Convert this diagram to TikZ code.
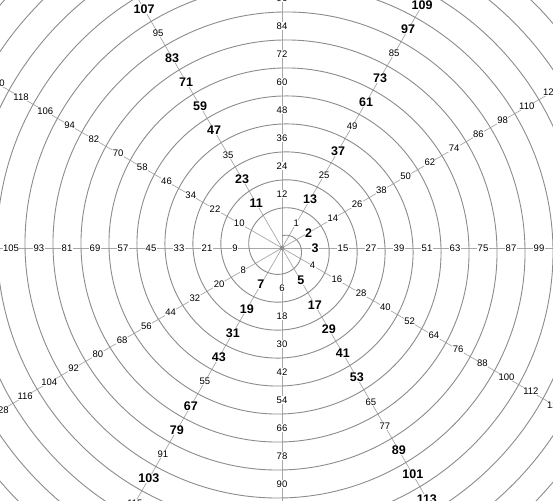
\documentclass[tikz,border=0pt]{standalone}
\usepackage{fontspec}
\setmainfont{Liberation Sans}
\definecolor{raygray}{HTML}{A8A8A8}
\definecolor{spiralgray}{HTML}{8C8C8C}
\begin{document}
\begin{tikzpicture}[x=1pt,y=1pt,
  ray/.style={draw=raygray, line width=0.7pt},
  spiral/.style={draw=spiralgray, line width=0.9pt},
  plainlbl/.style={fill=white, inner sep=0.4pt, font=\fontsize{9.5}{9.5}\selectfont},
  primelbl/.style={fill=white, inner sep=0.4pt, font=\fontsize{12.5}{12.5}\selectfont\bfseries}]
\useasboundingbox (0,0) rectangle (553,500);
\clip (0,0) rectangle (553,500);
\fill[white] (0,0) rectangle (553,500);
\coordinate (c) at (282,252);
\foreach \a in {0,30,...,330}
  \draw[ray] (c) -- ([shift={(\a:420)}]c) coordinate (r\a);
\draw[spiral, shift={(282,252)}] plot[domain=0:14, samples=1400, variable=\p, smooth] ({90-360*\p}:{12+28*\p});
\fill[spiralgray] (c) circle (2.2);
\foreach \n in {1,...,140}{
  \pgfmathsetmacro\ang{90-30*\n}
  \pgfmathsetmacro\rad{26+28*\n/12}
  \pgfmathtruncatemacro\isp{isprime(\n)}
  \ifnum\isp=1
    \node[primelbl] (n\n) at ([shift={(\ang:\rad)}]c) {\n};
  \else
    \node[plainlbl] (n\n) at ([shift={(\ang:\rad)}]c) {\n};
  \fi
}
\end{tikzpicture}
\end{document}
